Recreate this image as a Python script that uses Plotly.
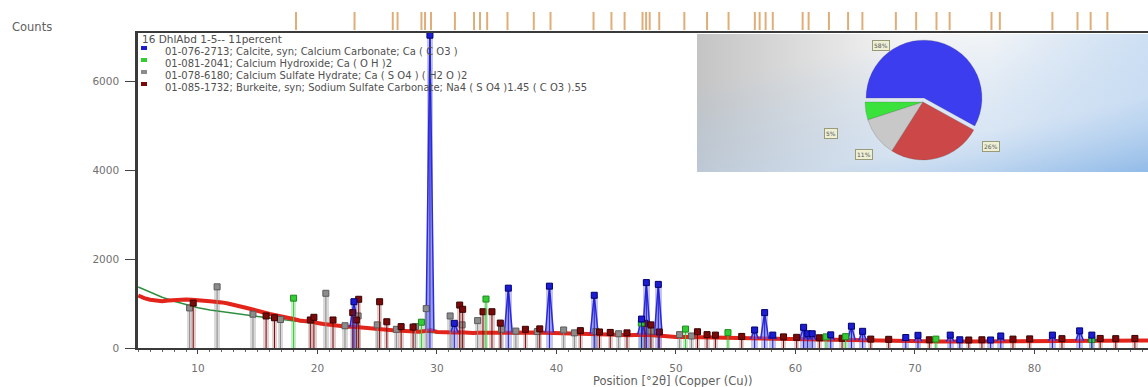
import base64
import plotly.graph_objects as go

# ---- observed scan (position °2θ, counts) ----
scan_x = [5.0, 5.5, 6.0, 6.5, 7.0, 7.5, 8.0, 8.5, 9.0, 9.5, 10.0, 10.5, 11.0, 11.5, 12.0,
          12.5, 13.0, 13.5, 14.0, 14.5, 15.0, 15.5, 16.0, 16.5, 17.0, 17.5, 18.0, 18.5,
          19.0, 19.5, 20.0, 20.5, 21.0, 21.5, 22.0, 22.5, 23.0, 23.5, 24.0, 24.5, 25.0,
          25.5, 26.0, 26.5, 27.0, 27.5, 28.0, 28.5, 29.0, 29.5, 30.0, 30.5, 31.0, 31.5,
          32.0, 32.5, 33.0, 33.5, 34.0, 34.5, 35.0, 36, 37, 38, 39, 40, 41, 42, 43, 44,
          45, 46, 47, 48, 49, 50, 51, 52, 53, 54, 55, 56, 57, 58, 59, 60, 62, 64, 66,
          68, 70, 72, 74, 76, 78, 80, 82, 84, 86, 88, 89.5]
scan_y = [1180, 1120, 1085, 1060, 1050, 1065, 1080, 1095, 1090, 1085, 1065, 1060, 1050,
          1045, 1025, 1000, 975, 945, 905, 870, 830, 800, 765, 735, 700, 665, 650, 620,
          600, 610, 560, 540, 520, 505, 490, 475, 480, 465, 450, 440, 430, 420, 405, 395,
          390, 380, 370, 365, 380, 400, 360, 350, 345, 350, 355, 340, 335, 340, 350, 345,
          340, 350, 345, 350, 345, 340, 335, 325, 320, 305, 295, 285, 300, 290, 260, 250,
          245, 240, 235, 225, 215, 205, 205, 200, 195, 190, 180, 175, 165, 155, 150, 145,
          145, 150, 155, 160, 165, 165, 170, 170, 170]

# ---- fitted background ----
bkg_x = [5, 6, 7, 8, 9, 10, 11, 12, 13, 14, 15, 16, 17, 18, 19, 20, 22, 24, 26, 28, 30,
         35, 40, 45, 50, 60, 70, 80, 89.5]
bkg_y = [1370, 1250, 1140, 1050, 970, 905, 855, 815, 780, 745, 710, 675, 640, 605, 575,
         545, 490, 445, 405, 370, 345, 330, 325, 285, 240, 180, 140, 155, 165]

# ---- phase stick patterns ----
calcite_pos = [23.05, 29.41, 31.45, 35.97, 39.41, 43.16, 47.12, 47.52, 48.52, 56.58, 57.42,
               58.10, 60.68, 61.02, 61.40, 62.95, 64.68, 65.62, 69.23, 70.25, 72.95, 73.75,
               76.33, 77.18, 81.50, 83.78, 84.80]
calcite_int = [1040, 7030, 555, 1345, 1390, 1185, 650, 1470, 1430, 405, 795, 290, 465, 320,
               320, 295, 490, 375, 235, 285, 290, 185, 180, 270, 290, 385, 290]
calcite_base = [470, 390, 345, 350, 345, 320, 300, 300, 290, 205, 205, 200, 190, 190, 185,
                178, 175, 170, 155, 150, 145, 145, 150, 155, 162, 165, 165]

portlandite_pos = [18.0, 28.7, 34.1, 47.1, 50.8, 54.35, 62.55, 64.2, 71.75, 84.8]
portlandite_int = [1120, 580, 1100, 560, 425, 345, 250, 255, 200, 190]

gypsum_pos = [9.3, 11.6, 14.6, 16.9, 20.7, 22.3, 23.4, 25.0, 26.6, 28.2, 29.1, 31.1, 32.1,
              33.4, 35.4, 36.6, 38.4, 40.6, 41.5, 43.3, 45.2, 47.9, 50.3, 51.3]
gypsum_int = [900, 1375, 760, 640, 1230, 500, 720, 520, 420, 480, 885, 720, 520, 615, 420,
              380, 370, 405, 340, 370, 320, 380, 300, 270]

burkeite_pos = [9.6, 15.7, 16.4, 19.4, 19.7, 21.3, 22.95, 23.25, 23.45, 25.2, 25.8, 27.0,
                28.0, 31.9, 32.15, 33.85, 34.6, 35.3, 37.4, 38.6, 42.0, 43.6, 44.5, 45.9,
                47.4, 47.9, 48.6, 51.8, 52.6, 53.3, 55.5, 59.0, 60.1, 62.0, 63.9, 66.3,
                67.8, 71.2, 74.5, 75.6, 78.2, 79.6, 82.3, 85.5, 86.8, 88.4]
burkeite_int = [1010, 720, 680, 630, 690, 630, 795, 630, 1095, 1040, 590, 480, 470, 965, 870,
                815, 815, 560, 420, 430, 390, 360, 350, 340, 555, 520, 360, 365, 300, 290,
                260, 250, 240, 230, 220, 200, 195, 185, 180, 185, 200, 205, 210, 215, 210,
                215]

# ---- reference line positions (top strip) ----
ref_lines = [18.2, 23.1, 26.3, 26.7, 28.7, 29.0, 29.5, 31.5, 33.1, 33.6, 34.2, 35.9, 38.1,
             39.5, 43.1, 44.6, 45.7, 47.2, 47.5, 47.8, 48.6, 50.7, 52.6, 54.4, 56.6, 57.0,
             57.5, 58.1, 60.6, 61.1, 62.8, 64.4, 65.6, 68.4, 70.1, 71.8, 72.9, 76.4, 77.1,
             81.5, 83.6, 84.7, 86.1]

# ---- identified phases and semi-quantitative shares ----
sample_name = "16 DhlAbd 1-5-- 11percent"
phase_refs = [
    "01-076-2713; Calcite, syn; Calcium Carbonate; Ca ( C O3 )",
    "01-081-2041; Calcium Hydroxide; Ca ( O H )2",
    "01-078-6180; Calcium Sulfate Hydrate; Ca ( S O4 ) ( H2 O )2",
    "01-085-1732; Burkeite, syn; Sodium Sulfate Carbonate; Na4 ( S O4 )1.45 ( C O3 ).55",
]
phase_names = ["Calcite", "Calcium Hydroxide", "Calcium Sulfate Hydrate", "Burkeite"]
phase_share = [58, 5, 11, 26]

FONT = "DejaVu Sans"
BLUE, GREEN, GRAY, DRED = "#1c1cd2", "#33cc33", "#8c8c8c", "#7a0a0a"

# plotting-area geometry in pixels, used to place overlay text
L, R, T, B = 138, 1148, 12, 348


def pp(xp, yp):
    return (xp - L) / (R - L), (B - yp) / (B - T)


def sticks(pos, val):
    xs, ys = [], []
    for p, v in zip(pos, val):
        xs += [p, p, None]
        ys += [0, v, None]
    return xs, ys


def peaks(pos, val, base, hw=0.33):
    xs, ys = [], []
    for p, v, b in zip(pos, val, base):
        xs += [p - hw, p, p + hw, None]
        ys += [b, v, b, None]
    return xs, ys


fig = go.Figure()

# pale stick columns
for pos, val, col, w in [
    (gypsum_pos, gypsum_int, "rgba(185,185,185,0.55)", 0.45),
    (burkeite_pos, burkeite_int, "rgba(200,160,160,0.5)", 0.45),
    (portlandite_pos, portlandite_int, "rgba(150,215,150,0.5)", 0.4),
    (calcite_pos, calcite_int, "rgba(140,140,225,0.5)", 0.55),
]:
    fig.add_trace(go.Bar(x=pos, y=val, width=w, marker=dict(color=col, line=dict(width=0)),
                         showlegend=False, hoverinfo="skip"))

# background and observed scan
fig.add_trace(go.Scatter(x=bkg_x, y=bkg_y, mode="lines", line=dict(color="#2f8f3f", width=1.5),
                         showlegend=False))
fig.add_trace(go.Scatter(x=scan_x, y=scan_y, mode="lines", line=dict(color="#e3241b", width=4),
                         showlegend=False))

# calcite profile
px_, py_ = peaks(calcite_pos, calcite_int, calcite_base)
fig.add_trace(go.Scatter(x=px_, y=py_, mode="lines", fill="toself",
                         fillcolor="rgba(110,110,235,0.45)",
                         line=dict(color="#2a2ad8", width=1.5), showlegend=False))

# stick lines and top markers
for pos, val, col, edge in [
    (gypsum_pos, gypsum_int, GRAY, "#5a5a5a"),
    (burkeite_pos, burkeite_int, DRED, "#3a0000"),
    (portlandite_pos, portlandite_int, GREEN, "#1a8a1a"),
    (calcite_pos, calcite_int, BLUE, "#000070"),
]:
    sx, sy = sticks(pos, val)
    fig.add_trace(go.Scatter(x=sx, y=sy, mode="lines", line=dict(color=col, width=1),
                             showlegend=False))
    fig.add_trace(go.Scatter(x=pos, y=val, mode="markers",
                             marker=dict(symbol="square", size=6, color=col,
                                         line=dict(color=edge, width=1)),
                             showlegend=False))

# reference lines in the strip above the plot
rx, ry = [], []
for p in ref_lines:
    rx += [p, p, None]
    ry += [0, 1, None]
fig.add_trace(go.Scatter(x=rx, y=ry, yaxis="y2", mode="lines",
                         line=dict(color="#dfae78", width=2), showlegend=False))

# phase share pie
x0, y0 = pp(856, 164)
x1, y1 = pp(990, 40)
fig.add_trace(go.Pie(values=phase_share, labels=phase_names, sort=False,
                     direction="counterclockwise", rotation=-90,
                     pull=[0.07, 0, 0, 0], textinfo="none", showlegend=False,
                     marker=dict(colors=["#3d3df0", "#3be23b", "#c8c8c8", "#cc4848"],
                                 line=dict(color="rgba(60,60,60,0.4)", width=0.5)),
                     domain=dict(x=[x0, x1], y=[y0, y1])))

# gradient panel behind the pie
svg = ('<svg xmlns="http://www.w3.org/2000/svg" width="451" height="138">'
       '<defs><linearGradient id="h" x1="0" y1="0" x2="1" y2="0">'
       '<stop offset="0" stop-color="#c4c4c4"/><stop offset="0.45" stop-color="#f3f3f3"/>'
       '<stop offset="0.65" stop-color="#f8f8f8"/><stop offset="1" stop-color="#d8e6f5"/>'
       '</linearGradient><linearGradient id="d" x1="0.35" y1="0.1" x2="1" y2="1">'
       '<stop offset="0" stop-color="#9cc1ea" stop-opacity="0"/>'
       '<stop offset="0.6" stop-color="#b9d3f0" stop-opacity="0.5"/>'
       '<stop offset="1" stop-color="#92bbe8" stop-opacity="1"/></linearGradient></defs>'
       '<rect width="451" height="138" fill="url(#h)"/>'
       '<rect width="451" height="138" fill="url(#d)"/></svg>')
src = "data:image/svg+xml;base64," + base64.b64encode(svg.encode()).decode()
ix, iy = pp(697, 34)
fig.add_layout_image(dict(source=src, xref="paper", yref="paper", x=ix, y=iy,
                          sizex=(1148 - 697) / (R - L), sizey=(172 - 34) / (B - T),
                          xanchor="left", yanchor="top", sizing="stretch", layer="below"))

annotations = []
shapes = []

# pie percentage tags
for (xp, yp), v in zip([(890, 40), (838, 133), (873, 154), (1000, 146)], phase_share):
    ax, ay = pp(xp, yp)
    annotations.append(dict(x=ax, y=ay, xref="paper", yref="paper", text=f"{v}%",
                            showarrow=False, font=dict(family=FONT, size=6, color="#555"),
                            bgcolor="#eef0d6", bordercolor="#9a9a78", borderwidth=1,
                            borderpad=1))

# phase legend
ax, ay = pp(140, 39)
annotations.append(dict(x=ax, y=ay, xref="paper", yref="paper", text=sample_name,
                        xanchor="left", yanchor="middle", showarrow=False,
                        font=dict(family=FONT, size=10.5, color="#505050")))
for ref, col, yt in zip(phase_refs, [BLUE, GREEN, GRAY, DRED], [51, 63, 75, 87]):
    ax, ay = pp(163, yt)
    annotations.append(dict(x=ax, y=ay, xref="paper", yref="paper", text=ref,
                            xanchor="left", yanchor="middle", showarrow=False,
                            font=dict(family=FONT, size=10, color="#505050")))
    sx0, sy0 = pp(141, yt - 1)
    sx1, sy1 = pp(147, yt - 5)
    shapes.append(dict(type="rect", xref="paper", yref="paper", x0=sx0, x1=sx1, y0=sy0,
                       y1=sy1, fillcolor=col, line=dict(width=0)))

# axis captions
ax, ay = pp(10, 27)
annotations.append(dict(x=ax, y=ay, xref="paper", yref="paper", text="Counts",
                        xanchor="left", yanchor="middle", showarrow=False,
                        font=dict(family=FONT, size=11.5, color="#606060")))
ax, ay = pp(673, 381)
annotations.append(dict(x=ax, y=ay, xref="paper", yref="paper",
                        text="Position [°2θ] (Copper (Cu))", xanchor="center",
                        yanchor="middle", showarrow=False,
                        font=dict(family=FONT, size=11.5, color="#606060")))

fig.update_layout(
    width=1148, height=387,
    margin=dict(l=L, r=1148 - R, t=T, b=387 - B),
    paper_bgcolor="white", plot_bgcolor="rgba(0,0,0,0)",
    barmode="overlay", bargap=0,
    showlegend=False,
    annotations=annotations, shapes=shapes,
    font=dict(family=FONT, size=10.5, color="#707070"),
    xaxis=dict(range=[4.98, 89.5], showgrid=False, zeroline=False, showline=True,
               linecolor="#3a3a3a", linewidth=2, mirror=True, ticks="outside", ticklen=4,
               tickcolor="#444", dtick=10, tick0=0, ticklabelstandoff=5,
               minor=dict(dtick=1, ticks="outside", ticklen=2, tickcolor="#666"),
               tickfont=dict(family=FONT, size=10.5, color="#707070")),
    yaxis=dict(domain=[0, (B - 33) / (B - T)], range=[0, 7079], dtick=2000,
               showgrid=False, zeroline=False, showline=True, linecolor="#3a3a3a",
               linewidth=2.5, ticks="outside", ticklen=10, tickcolor="#444",
               ticklabelstandoff=4,
               tickfont=dict(family=FONT, size=10.5, color="#707070")),
    yaxis2=dict(domain=[(B - 30) / (B - T), 1], range=[0, 1], anchor="x",
                showgrid=False, zeroline=False, showline=False, showticklabels=False,
                ticks=""),
)

fig.write_html("out.html")
